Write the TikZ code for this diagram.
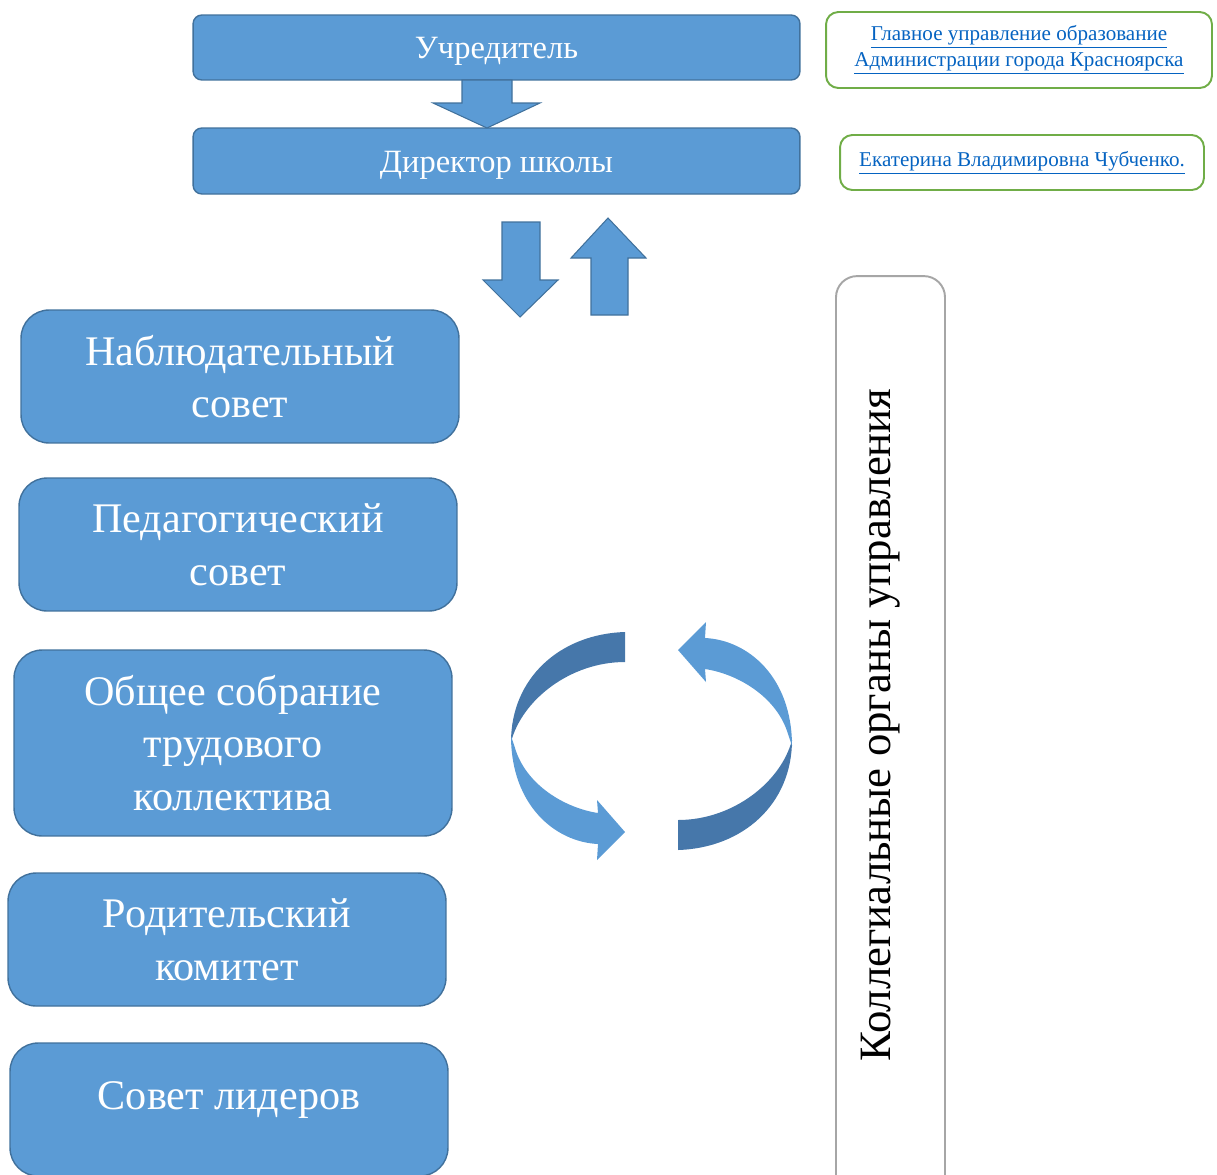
\documentclass[tikz,border=0pt]{standalone}
\usepackage{fontspec}
\setmainfont{Liberation Serif}
\usetikzlibrary{calc}
\definecolor{orgblue}{HTML}{5B9BD5}
\definecolor{orgedge}{HTML}{41719C}
\definecolor{orgdark}{HTML}{4677AA}
\definecolor{orggreen}{HTML}{70AD47}
\definecolor{orglink}{HTML}{0563C1}
\definecolor{orggray}{HTML}{A6A6A6}

\begin{document}
\begin{tikzpicture}[
  x=0.02cm, y=-0.02cm,
  topbox/.style={rectangle, rounded corners=5pt, draw=orgedge, fill=orgblue, line width=0.8pt, minimum width=12.14cm, text height=0.58cm, text depth=0.14cm, text=white, font=\fontsize{18.5}{22}\selectfont},
  bodybox/.style={rectangle, rounded corners=16pt, draw=orgedge, fill=orgblue, line width=0.8pt, minimum width=8.76cm, minimum height=2.66cm, align=center, text=white, font=\fontsize{24}{30}\selectfont},
  linkbox/.style={rectangle, rounded corners=7pt, draw=orggreen, line width=1.1pt, align=center, text=orglink, font=\fontsize{12}{14.7}\selectfont},
  sidebox/.style={rectangle, rounded corners=12pt, draw=orggray, fill=white, line width=1.1pt, font=\fontsize{25.5}{30}\selectfont},
  barrow/.style={draw=orgedge, fill=orgblue, line width=0.6pt, line join=miter},
]
\clip (0,0) rectangle (1217,1174);

% Management
\node[topbox, minimum height=1.3cm] (founder) at (496.5,47.5) {Учредитель};
\node[topbox, minimum height=1.32cm] (director) at (496.5,161) {Директор школы};

% Links
\node[linkbox, minimum width=7.72cm, minimum height=1.52cm] (dept) at (1019,50) {\underline{Главное управление образование}\\\underline{Администрации города Красноярска}};
\node[linkbox, minimum width=7.28cm, minimum height=1.1cm] (head) at (1022,162.5) {\underline{Екатерина Владимировна Чубченко.}};

% Collegial bodies
\node[bodybox] (watch) at (240,376.5) {Наблюдательный\\совет};
\node[bodybox] (ped) at (238,544.5) {Педагогический\\совет};
\node[bodybox, minimum height=3.72cm] (staff) at (233,743) {Общее собрание\\трудового\\коллектива};
\node[bodybox] (parent) at (227,939.5) {Родительский\\комитет};
\node[bodybox, text height=0.6cm, text depth=0.6cm] (leader) at (229,1109.5) {Совет лидеров};

\node[sidebox, rotate=90, minimum width=18.48cm, minimum height=2.18cm, text height=0.6cm, text depth=0.6cm] (council) at (890.5,738) {\hspace*{0.52cm}Коллегиальные органы управления};

% Block arrows
\draw[barrow] (462,80) -- (512,80) -- (512,103) -- (540,103) -- (487,128) -- (433,103) -- (462,103) -- cycle;
\draw[barrow] (502,222) -- (540,222) -- (540,280) -- (558,280) -- (520,317) -- (483,280) -- (502,280) -- cycle;
\draw[barrow] (591,315) -- (628,315) -- (628,258) -- (646,258) -- (608,218) -- (571,258) -- (591,258) -- cycle;

% Circular arrows
\foreach \ang in {0,180} {
  \begin{scope}[rotate around={\ang:(651.5,741)}]
    \fill[orgdark] (625,632) .. controls (560,634) and (511,678) .. (511,742) .. controls (522,700) and (570,662) .. (625,662) -- cycle;
    \fill[orgblue] (511,736) .. controls (511,805) and (555,842) .. (598,844) -- (597,860) -- (625,832) -- (597,800) -- (598,813) .. controls (565,808) and (526,785) .. (515,748) -- cycle;
  \end{scope}
}

\end{tikzpicture}
\end{document}
